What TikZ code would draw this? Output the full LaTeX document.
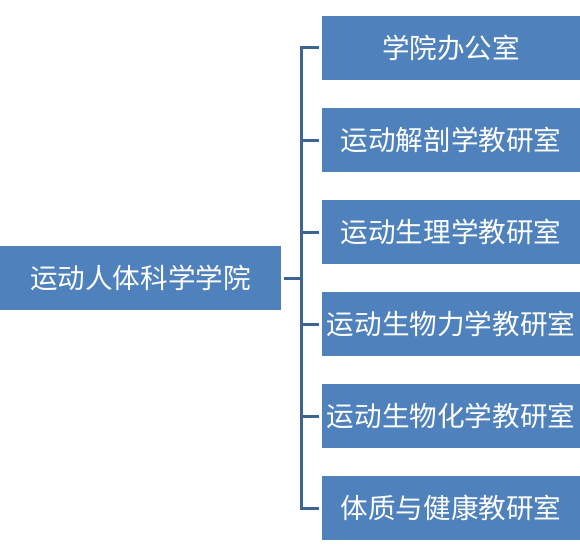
\documentclass[tikz,border=0pt]{standalone}
\usepackage{fontspec}
\newfontfamily\cjk{Noto Sans CJK SC}
\usepackage{tikz}
\usetikzlibrary{calc}
\definecolor{boxblue}{HTML}{4F81BD}
\definecolor{lineblue}{HTML}{3C6496}

\begin{document}
\begin{tikzpicture}[x=1pt, y=1pt, node distance=92pt,
    unit/.style={rectangle, fill=boxblue, text=white, inner sep=0pt,
        minimum width=258pt, minimum height=64pt,
        font=\cjk\fontsize{27.6}{30}\selectfont},
    conn/.style={draw=lineblue, line width=3pt, line join=miter}]
            \useasboundingbox (0,0) rectangle (580,-551);

            \node[unit, minimum width=281pt] (college) at (140.5,-278) {运动人体科学学院};

            \node[unit] (office) at (451,-48) {学院办公室};
            \node[unit, below of=office] (anatomy) {运动解剖学教研室};
            \node[unit, below of=anatomy] (physio) {运动生理学教研室};
            \node[unit, below of=physio] (biomech) {运动生物力学教研室};
            \node[unit, below of=biomech] (biochem) {运动生物化学教研室};
            \node[unit, below of=biochem] (health) {体质与健康教研室};

            \coordinate (hub) at (301,-278);
            \draw[conn, shorten <=3pt] (college.east) -- (hub);
            \foreach \dept in {office, anatomy, physio, biomech, biochem, health}
                \draw[conn, shorten >=3pt] (hub) |- (\dept.west);
        \end{tikzpicture}
\end{document}
